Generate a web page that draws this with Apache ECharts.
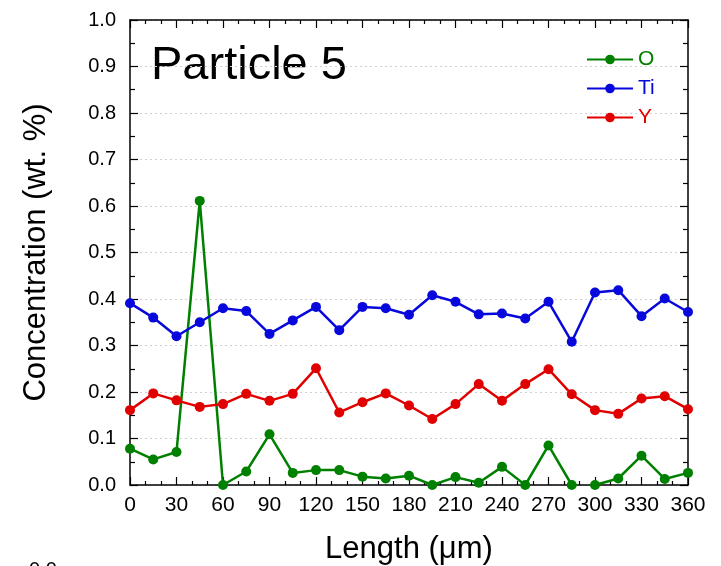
<!DOCTYPE html>
<html>
<head>
<meta charset="utf-8">
<script src="https://cdn.jsdelivr.net/npm/echarts@6/dist/echarts.min.js"></script>
<style>html,body{margin:0;padding:0;background:#fff}#c{width:721px;height:566px}</style>
</head>
<body>
<div id="c"></div>
<script>
// Data
const lengths = [0,15,30,45,60,75,90,105,120,135,150,165,180,195,210,225,240,255,270,285,300,315,330,345,360];
const oValues = [0.078,0.055,0.071,0.611,0.000,0.029,0.109,0.026,0.032,0.032,0.018,0.014,0.020,0.000,0.017,0.005,0.039,0.000,0.085,0.000,0.000,0.014,0.063,0.013,0.026];
const tiValues = [0.391,0.360,0.320,0.350,0.380,0.374,0.325,0.354,0.383,0.333,0.383,0.380,0.366,0.408,0.394,0.367,0.369,0.358,0.394,0.308,0.414,0.419,0.363,0.401,0.372];
const yValues = [0.161,0.197,0.182,0.168,0.174,0.196,0.181,0.196,0.251,0.156,0.178,0.197,0.171,0.142,0.174,0.217,0.181,0.217,0.249,0.195,0.161,0.153,0.186,0.191,0.163];
const oBreakIndex = 20; // O line is not joined between 285 and 300
const xTicks = [0,30,60,90,120,150,180,210,240,270,300,330,360];
const yTicks = [0.0,0.1,0.2,0.3,0.4,0.5,0.6,0.7,0.8,0.9,1.0];
const seriesNames = ['O','Ti','Y'];
const seriesColors = ['#008000','#0808dc','#e00000'];

const pairs = (vals, from, to) => vals.slice(from, to).map((v, i) => [lengths[from + i], v]);

const FONT = '"Liberation Sans", Arial, sans-serif';
const chart = echarts.init(document.getElementById('c'), null, {renderer: 'canvas'});

const axisLine = {show: true, onZero: false, lineStyle: {color: '#000', width: 1.5}};
const tickStyle = {color: '#000', width: 1.2};
const mkX = (pos, labels) => ({
  type: 'value', position: pos, min: xTicks[0], max: xTicks[xTicks.length-1], interval: 30,
  axisLine: axisLine,
  axisTick: {show: true, inside: true, length: 8, lineStyle: tickStyle},
  minorTick: {show: true, splitNumber: 3, length: 4, lineStyle: tickStyle},
  axisLabel: {show: labels, fontFamily: FONT, fontSize: 21, color: '#000', margin: 10},
  splitLine: {show: false}, minorSplitLine: {show: false}
});
const mkY = (pos, labels) => ({
  type: 'value', position: pos, min: yTicks[0], max: yTicks[yTicks.length-1], interval: 0.1,
  axisLine: axisLine,
  axisTick: {show: true, inside: true, length: 8, lineStyle: tickStyle},
  minorTick: {show: true, splitNumber: 2, length: 5, lineStyle: tickStyle},
  axisLabel: {show: labels, fontFamily: FONT, fontSize: 20, color: '#000', margin: 14,
    formatter: v => v.toFixed(1)},
  splitLine: {show: labels, lineStyle: {color: '#d0d0d0', type: [2, 3], width: 1}},
  minorSplitLine: {show: false}
});

const lineSeries = (name, color, data) => ({
  name: name, type: 'line', data: data, color: color,
  symbol: 'circle', symbolSize: 10, clip: false,
  lineStyle: {width: 2.5, color: color}, itemStyle: {color: color},
  xAxisIndex: 0, yAxisIndex: 0, animation: false
});

chart.setOption({
  animation: false,
  grid: {left: 130, right: 33, top: 20, bottom: 81, outerBoundsMode: 'none', containLabel: false},
  xAxis: [
    Object.assign(mkX('bottom', true), {name: 'Length (\u03bcm)', nameLocation: 'middle', nameGap: 49,
      nameTextStyle: {fontFamily: FONT, fontSize: 31, color: '#000'}}),
    mkX('top', false)
  ],
  yAxis: [
    Object.assign(mkY('left', true), {name: 'Concentration (wt. %)', nameLocation: 'middle', nameGap: 78,
      nameTextStyle: {fontFamily: FONT, fontSize: 31, color: '#000'}}),
    mkY('right', false)
  ],
  legend: {
    orient: 'vertical', left: 586, top: 49, padding: 0, itemWidth: 46, itemHeight: 12, itemGap: 8,
    textStyle: {fontFamily: FONT, fontSize: 21, lineHeight: 20},
    data: seriesNames.map((n, i) => ({name: n, textStyle: {color: seriesColors[i]}}))
  },
  graphic: [
    {type: 'text', left: 151, top: 43, style: {text: 'Particle 5', font: '47px ' + FONT, fill: '#000'}},
    {type: 'text', left: 29, top: 560, style: {text: '0.0', font: '20px ' + FONT, fill: '#000'}}
  ],
  series: [
    lineSeries(seriesNames[0], seriesColors[0], pairs(oValues, 0, oBreakIndex)),
    lineSeries(seriesNames[0], seriesColors[0], pairs(oValues, oBreakIndex, lengths.length)),
    lineSeries(seriesNames[1], seriesColors[1], pairs(tiValues, 0, lengths.length)),
    lineSeries(seriesNames[2], seriesColors[2], pairs(yValues, 0, lengths.length))
  ]
});
</script>
</body>
</html>
